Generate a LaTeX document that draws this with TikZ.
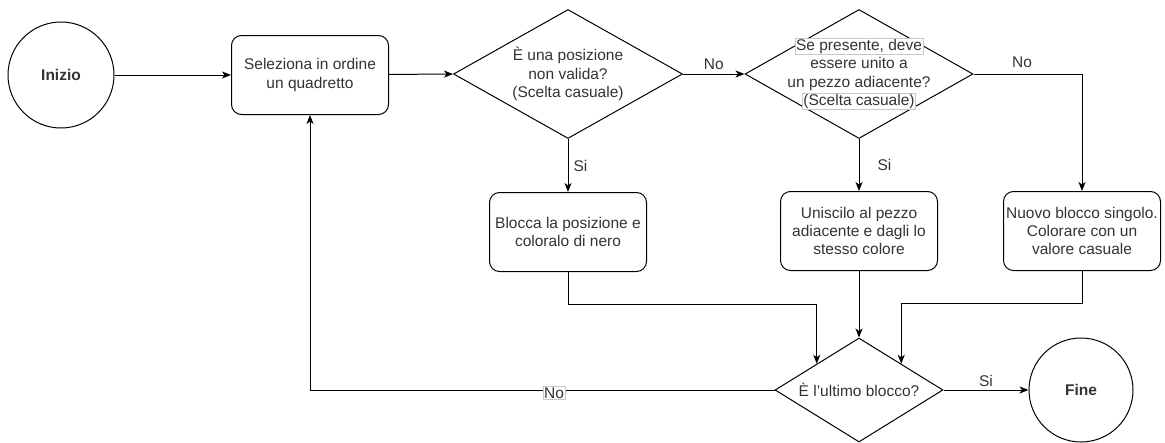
\documentclass[tikz,border=0pt]{standalone}
\usepackage{fontspec}
\setmainfont{Liberation Sans}
\usetikzlibrary{shapes.geometric,arrows.meta}
\definecolor{txt}{HTML}{333333}
\definecolor{halo}{HTML}{C8C8C8}
\begin{document}
\begin{tikzpicture}[x=1pt,y=-1pt,
  every node/.style={font=\fontsize{15.5}{18.3}\selectfont, text=txt},
  term/.style={circle, draw=black, line width=1pt, minimum size=#1, inner sep=0pt, font=\fontsize{15.5}{18.3}\selectfont\bfseries},
  proc/.style={rectangle, rounded corners=10pt, draw=black, line width=1pt, minimum width=157pt, minimum height=79pt, align=center, inner sep=0pt},
  decision/.style n args={2}{diamond, draw=black, line width=1pt, minimum width=#1, minimum height=#2, inner sep=0pt},
  flow/.style={draw=black, line width=1pt, -{Stealth[length=9pt,width=7pt,inset=2.5pt]}},
  lbl/.style={inner sep=1pt},
  boxlbl/.style={fill=white, draw=halo, line width=0.6pt, inner sep=1pt}
]
\useasboundingbox (0,0) rectangle (1165,442);

% terminals
\node[term=106pt] (start) at (61,75) {Inizio};
\node[term=104pt] (fine) at (1081,390) {Fine};

% processes
\node[proc] (sel) at (310,75) {Seleziona in ordine\\un quadretto};
\node[proc] (blk) at (568,232) {Blocca la posizione e\\coloralo di nero};
\node[proc] (uni) at (859,231) {Uniscilo al pezzo\\adiacente e dagli lo\\stesso colore};
\node[proc] (nuo) at (1082,231) {Nuovo blocco singolo.\\Colorare con un\\valore casuale};

% decisions (shape and text kept as separate nodes)
\node[decision={229pt}{129pt}] (d1) at (568,74) {};
\node[align=center, inner sep=0pt] (d1t) at (d1.center) {È una posizione\\non valida?\\(Scelta casuale)};

\node[decision={228pt}{129pt}] (d2) at (859,74) {};
\setlength\fboxsep{0.6pt}\setlength\fboxrule{0.6pt}
\node[align=center, inner sep=0pt] (d2t) at (d2.center)
  {\fcolorbox{halo}{white}{Se presente, deve}\\essere unito a\\un pezzo adiacente?\\\fcolorbox{halo}{white}{(Scelta casuale)}};

\node[decision={168pt}{104pt}] (d3) at (859,390) {};
\node[inner sep=0pt] (d3t) at (d3.center) {È l'ultimo blocco?};

% connectors
\draw[flow] (start) -- (sel);
\draw[flow] (sel) -- (d1.west);
\draw[flow] (d1.east) -- node[lbl, above=3pt] (no1) {No} (d2.west);
\draw[flow] (d1.south) -- node[lbl, right=4pt] (si1) {Si} (blk.north);
\draw[flow] (d2.south) -- node[lbl, right=17pt] (si2) {Si} (uni.north);
\draw[flow] (d2.east) -| (nuo.north);
\node[lbl] (no2) at (1022,62) {No};
\draw[flow] (blk.south) -- ++(0,32) -| (d3.north west);
\draw[flow] (uni.south) -- (d3.north);
\draw[flow] (nuo.south) -- ++(0,32) -| (d3.north east);
\draw[flow] (d3.east) -- node[lbl, above=2pt] (si3) {Si} (fine.west);
\draw[flow] (d3.west) -| (sel.south);
\node[boxlbl] (no3) at (554,393) {No};
\end{tikzpicture}
\end{document}
